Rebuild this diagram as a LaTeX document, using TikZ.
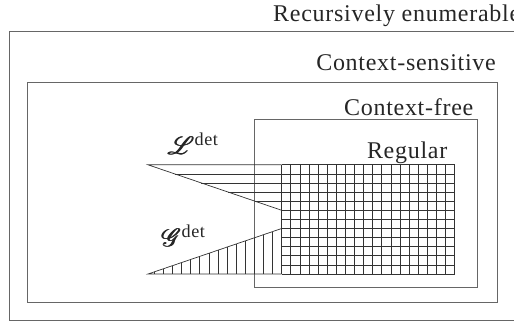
\documentclass[tikz,border=0pt]{standalone}
\usepackage{amsmath}
\usepackage{amssymb}
\usepackage{mathrsfs}
\usepackage{fontspec}
\setmainfont[LetterSpace=3]{Liberation Serif}
\usepackage{tikz}

\tikzset{
  classbox/.style = {draw=black!60, line width=0.8pt},
  hatch/.style = {draw=black!80, line width=0.7pt},
  classname/.style = {inner sep=0pt, text=black!85, font=\fontsize{24}{28}\selectfont},
  detname/.style = {inner sep=0pt, text=black!85, font=\fontsize{26}{30}\selectfont}
}

\begin{document}
\begin{tikzpicture}[x=1pt, y=1pt]
  \useasboundingbox (0,0) rectangle (514,323);
  \clip (0,0) rectangle (514,323);
  % the classes, one inside the other
  \draw[classbox] (9,2.3) rectangle (530,291.3);
  \draw[classbox] (27,20.7) rectangle (497,241);
  \draw[classbox] (254,35.7) rectangle (477.7,204);
  \node[classname, anchor=base west] (re) at (273,301) {Recursively enumerable};
  \node[classname, anchor=base east] (cs) at (496,252.3) {Context-sensitive};
  \node[classname, anchor=base east] (cf) at (473.5,207.3) {Context-free};
  \node[classname, anchor=base east] (reg) at (447.5,164.7) {Regular};
  % regular: the grid
  \foreach \i in {0,...,19} {\draw[hatch] (281.7+\i*9.1,49) -- (281.7+\i*9.1,158.2);}
  \foreach \j in {0,...,12} {\draw[hatch] (281.7,49+\j*9.1) -- (454.6,49+\j*9.1);}
  % L det: horizontal hatching
  \draw[hatch] (281.7,112.7) -- (148,158.2) -- (281.7,158.2);
  \foreach \k in {1,...,4} {\draw[hatch] (148+\k*26.74,158.2-\k*9.1) -- (281.7,158.2-\k*9.1);}
  % G det: vertical hatching
  \draw[hatch] (281.7,94.5) -- (148,49) -- (281.7,49);
  \foreach \i in {1,...,14} {\draw[hatch] (281.7-\i*9.1,49) -- ++(0,{(133.7-\i*9.1)*0.3403});}
  \node[detname, anchor=base west] (ldet) at (168,168) {$\pmb{\mathscr{L}}^{\text{det}}$};
  \node[detname, anchor=base west] (gdet) at (162,76) {$\pmb{\mathscr{G}}^{\text{det}}$};
\end{tikzpicture}
\end{document}
